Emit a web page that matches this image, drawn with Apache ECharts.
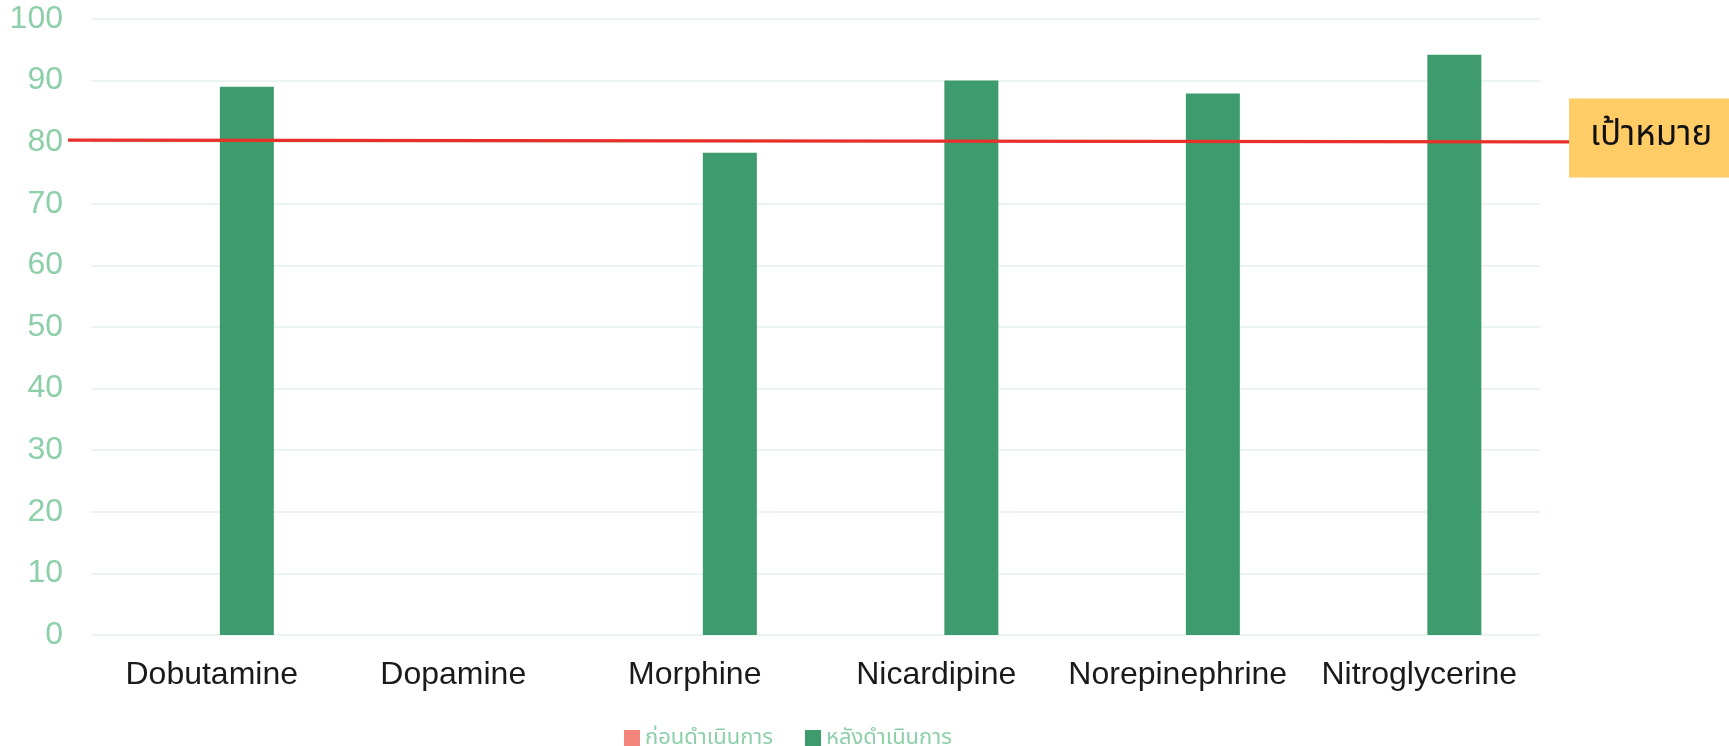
<!DOCTYPE html>
<html>
<head>
<meta charset="utf-8">
<script src="https://cdn.jsdelivr.net/npm/echarts@6/dist/echarts.min.js"></script>
<style>
html,body{margin:0;padding:0;background:#fff;}
#chart{width:1729px;height:746px;}
</style>
</head>
<body>
<div id="chart"></div>
<script>
var categories = ['Dobutamine', 'Dopamine', 'Morphine', 'Nicardipine', 'Norepinephrine', 'Nitroglycerine'];
var seriesNames = ['ก่อนดำเนินการ', 'หลังดำเนินการ'];
var beforeValues = [null, null, null, null, null, null];
var afterValues = [89, null, 78.3, 90, 87.9, 94.2];
var targetLine = [[0, 80.35], [1, 80.05]];
var targetLabel = 'เป้าหมาย';
var yTicks = { min: 0, max: 100, interval: 10 };

var chart = echarts.init(document.getElementById('chart'), null, { renderer: 'canvas' });
var fontFam = 'Liberation Sans, Arial, "Noto Sans Thai", "Noto Sans", sans-serif';
chart.setOption({
  animation: false,
  backgroundColor: '#ffffff',
  textStyle: { fontFamily: fontFam },
  legend: {
    data: seriesNames,
    top: 722,
    left: 619,
    itemWidth: 16,
    itemHeight: 16,
    itemGap: 32,
    icon: 'rect',
    textStyle: { color: '#8ccfa8', fontSize: 22, fontFamily: fontFam }
  },
  grid: [
    { left: 91, right: 189, top: 19, bottom: 111 },
    { left: 68, right: 160, top: 19, bottom: 111 }
  ],
  xAxis: [
    {
      type: 'category', data: categories, gridIndex: 0,
      axisLine: { show: false }, axisTick: { show: false },
      axisLabel: { color: '#1a1a1a', fontSize: 32, margin: 24, interval: 0 }
    },
    { type: 'value', gridIndex: 1, min: 0, max: 1, show: false }
  ],
  yAxis: [
    {
      type: 'value', gridIndex: 0, min: yTicks.min, max: yTicks.max, interval: yTicks.interval,
      axisLine: { show: false }, axisTick: { show: false },
      axisLabel: { color: '#8ccfa8', fontSize: 32, margin: 28 },
      splitLine: { lineStyle: { color: '#e3f2ec', width: 1.5 } }
    },
    { type: 'value', gridIndex: 1, min: yTicks.min, max: yTicks.max, show: false }
  ],
  series: [
    {
      name: seriesNames[0], type: 'bar', xAxisIndex: 0, yAxisIndex: 0,
      data: beforeValues, barWidth: 54, barGap: '30%',
      itemStyle: { color: '#f4847a' }
    },
    {
      name: seriesNames[1], type: 'bar', xAxisIndex: 0, yAxisIndex: 0,
      data: afterValues, barWidth: 54, barGap: '30%',
      itemStyle: { color: '#3e9b6d' }
    },
    {
      name: 'target', type: 'line', xAxisIndex: 1, yAxisIndex: 1,
      data: targetLine, symbol: 'none', silent: true,
      lineStyle: { color: '#e8302a', width: 3.3 },
      endLabel: {
        show: true, formatter: targetLabel, distance: 0, offset: [0, -4],
        backgroundColor: '#ffcc66', color: '#111', fontSize: 35,
        padding: [22, 30, 22, 21], fontFamily: '"Noto Sans Thai", "Noto Sans", sans-serif'
      }
    }
  ]
});
</script>
</body>
</html>
